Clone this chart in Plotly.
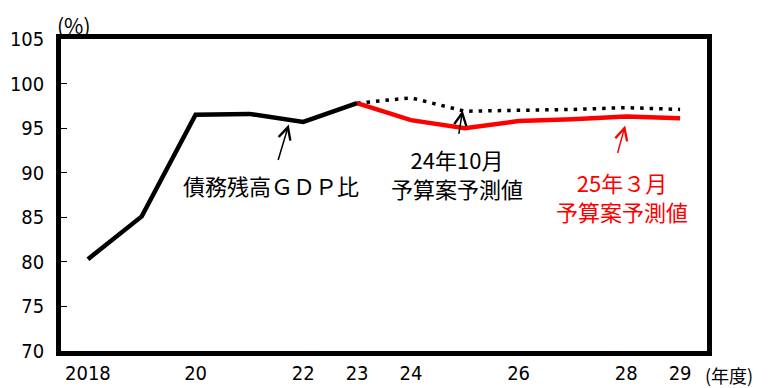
import plotly.graph_objects as go

# --- data ---
years = ["2018", "2019", "2020", "2021", "2022", "2023", "2024", "2025", "2026", "2027", "2028", "2029"]
tick_text = ["2018", "", "20", "", "22", "23", "24", "", "26", "", "28", "29"]

actual = [80.3, 85.1, 96.5, 96.6, 95.7, 97.8, None, None, None, None, None, None]
oct24_forecast = [None, None, None, None, None, 97.8, 98.4, 96.9, 97.0, 97.1, 97.3, 97.1]
mar25_forecast = [None, None, None, None, None, 97.8, 95.9, 95.0, 95.8, 96.0, 96.3, 96.1]

jp_font = "Noto Sans CJK JP"
num_font = "DejaVu Sans Condensed, Liberation Sans Narrow, sans-serif"

fig = go.Figure()

fig.add_trace(go.Scatter(x=years, y=oct24_forecast, mode="lines",
                         line=dict(color="black", width=3.5, dash="3.5px,6px"),
                         showlegend=False))
fig.add_trace(go.Scatter(x=years, y=mar25_forecast, mode="lines",
                         line=dict(color="#ff0000", width=4.5),
                         showlegend=False))
fig.add_trace(go.Scatter(x=years, y=actual, mode="lines",
                         line=dict(color="black", width=4.5),
                         showlegend=False))


def arrow(x, y, ax, ay, color):
    fig.add_annotation(x=x, y=y, xref="x", yref="y", ax=ax, ay=ay,
                       text="", showarrow=True, font=dict(size=1),
                       arrowhead=5, arrowsize=1.6, arrowwidth=1.5, arrowcolor=color)


def label(x, y, text, color):
    fig.add_annotation(x=x, y=y, xref="x", yref="y", text=text, showarrow=False,
                       font=dict(family=jp_font, size=22, color=color),
                       align="center")


arrow(3.73, 95.4, -11, 37, "black")
label(3.41, 88.6, "債務残高ＧＤＰ比", "black")

arrow(6.96, 97.0, -4, 25, "black")
label(6.85, 89.9, "24年10月<br>予算案予測値", "black")

arrow(9.98, 95.3, -8, 29, "#ff0000")
label(9.93, 87.3, "25年３月<br>予算案予測値", "#ff0000")

fig.add_annotation(x=-0.5, y=105, xref="x", yref="y", xanchor="left", yanchor="bottom",
                   xshift=-6, yshift=-3,
                   text="(%)", showarrow=False,
                   font=dict(family=jp_font, size=21, color="black"))
fig.add_annotation(x=11.5, y=70, xref="x", yref="y", xanchor="left", yanchor="top",
                   xshift=-4, yshift=-9,
                   text="(年度)", showarrow=False,
                   font=dict(family=jp_font, size=18, color="black"))

# the page body has an 8px margin, so the figure is sized to fit beside it
fig.update_layout(
    width=763, height=380,
    margin=dict(l=53, r=64, t=31, b=37),
    plot_bgcolor="white", paper_bgcolor="white",
    xaxis=dict(type="category", range=[-0.5, 11.5], automargin=False,
               tickmode="array", tickvals=years, ticktext=tick_text,
               tickfont=dict(family=num_font, size=20, color="black"),
               showgrid=False, zeroline=False,
               showline=True, linecolor="black", linewidth=4.5, mirror=True,
               ticks=""),
    yaxis=dict(range=[70, 105], dtick=5, automargin=False, ticklabelstandoff=8,
               tickfont=dict(family=num_font, size=20, color="black"),
               showgrid=False, zeroline=False,
               showline=True, linecolor="black", linewidth=4.5, mirror=True,
               ticks="inside", ticklen=6, tickwidth=1, tickcolor="black"),
)

fig.write_html("out.html")
